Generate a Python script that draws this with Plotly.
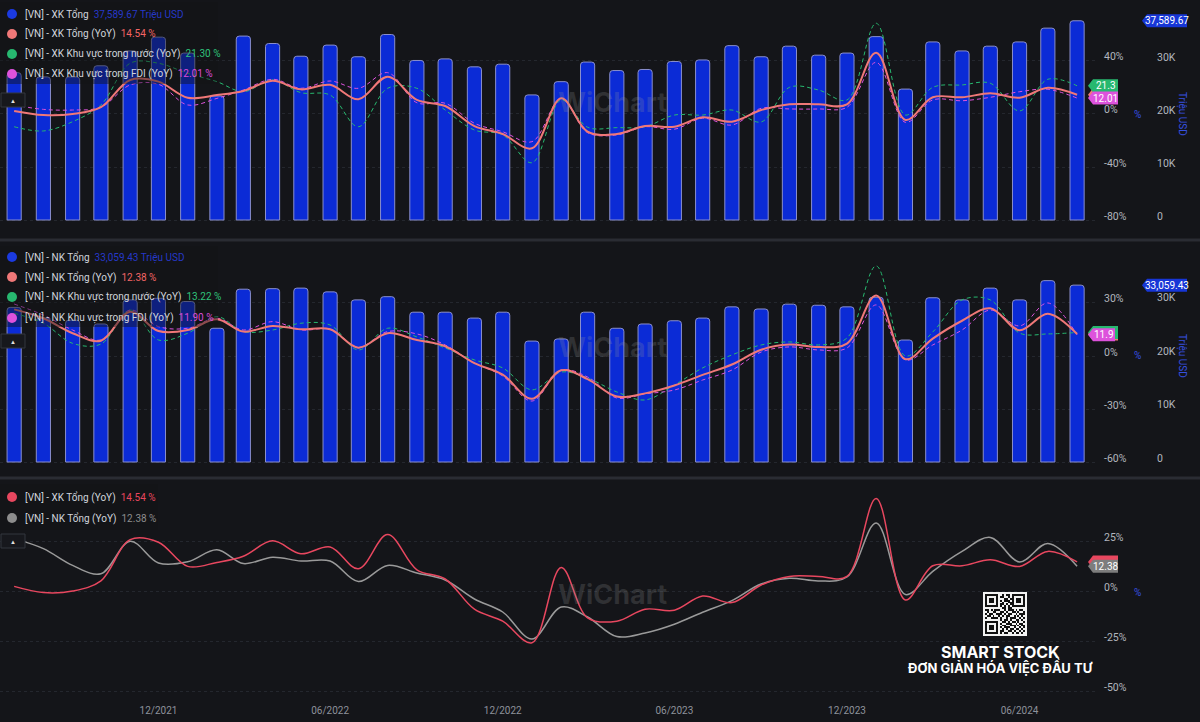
import plotly.graph_objects as go

W, H = 1200, 722
BG = "#141519"

# ---------------- data ----------------
months = ["2021-07", "2021-08", "2021-09", "2021-10", "2021-11", "2021-12",
          "2022-01", "2022-02", "2022-03", "2022-04", "2022-05", "2022-06",
          "2022-07", "2022-08", "2022-09", "2022-10", "2022-11", "2022-12",
          "2023-01", "2023-02", "2023-03", "2023-04", "2023-05", "2023-06",
          "2023-07", "2023-08", "2023-09", "2023-10", "2023-11", "2023-12",
          "2024-01", "2024-02", "2024-03", "2024-04", "2024-05", "2024-06",
          "2024-07", "2024-08"]

xk_total = [27800, 27000, 27000, 29100, 31900, 34500, 31500, 23400, 34700, 33300,
            30900, 33000, 30800, 35000, 30100, 30400, 28900, 29400, 23600, 26100,
            29800, 28200, 28400, 29900, 30200, 32900, 30800, 32800, 31100, 31500,
            34600, 24700, 33600, 31900, 32800, 33600, 36200, 37589.67]
xk_yoy = [2.3, -0.8, 0.0, 5.1, 25.7, 24.4, 12.3, 14.3, 17.4, 25.1,
          18.6, 22.0, 11.1, 28.2, 10.6, 6.0, -9.1, -15.1, -25.9, 11.8,
          -13.4, -15.1, -9.1, -9.6, -2.5, -5.8, 3.0, 7.3, 7.3, 7.3,
          46.3, -4.5, 12.6, 12.6, 15.6, 12.3, 19.8, 14.54]
xk_dom = [-9.6, -12.8, -5.8, 6.8, 38.3, 38.3, 30.7, 24.4, 16.8, 25.7,
          16.1, 14.3, -9.6, 19.4, 19.4, 3.0, -12.1, -15.8, -36.8, 10.6,
          -10.0, -10.3, -9.6, -0.8, -0.8, 3.0, -6.0, 20.1, 18.1, 10.6,
          68.5, -0.8, 20.1, 21.9, 23.2, 2.3, 26.2, 21.30]
xk_fdi = [6.8, 3.5, 3.0, 5.1, 21.9, 22.4, 6.8, 11.8, 18.1, 26.2,
          19.4, 24.9, 19.4, 31.2, 8.5, 8.1, -7.0, -13.4, -20.9, 11.8,
          -14.1, -15.8, -9.6, -11.5, -3.2, -8.3, 4.3, 3.8, 3.8, 5.1,
          39.0, -6.3, 10.6, 10.0, 12.6, 16.8, 18.6, 12.01]

nk_total = [28900, 26900, 26500, 25800, 30300, 30600, 30000, 25000, 32300, 32400,
            32500, 31800, 30300, 30900, 28000, 28000, 26900, 28000, 22600, 23000,
            28000, 25000, 25800, 26400, 26900, 29000, 28600, 29500, 29300, 29000,
            30800, 22800, 30700, 30300, 32500, 30300, 33900, 33059.43]
nk_yoy = [26.2, 21.2, 12.8, 8.6, 24.9, 14.0, 14.6, 20.6, 13.7, 16.9,
          15.0, 15.0, 4.7, 12.8, 9.0, 5.5, -4.0, -10.5, -24.0, -8.0,
          -13.0, -22.8, -21.0, -16.6, -10.6, -4.8, 3.5, 6.4, 5.0, 7.0,
          34.0, -1.8, 9.8, 19.8, 26.8, 14.5, 23.8, 12.38]
nk_dom = [24.0, 18.4, 7.1, 6.7, 25.8, 9.0, 12.8, 22.1, 13.7, 14.6,
          18.4, 17.4, 3.4, 15.6, 10.7, 4.5, -2.2, -6.7, -19.0, -9.0,
          -12.4, -20.2, -24.7, -16.3, -6.7, 0.6, 6.2, 7.9, 6.2, 10.1,
          50.6, 0.0, 13.5, 31.5, 31.5, 12.9, 12.4, 13.22]
nk_fdi = [29.2, 23.0, 14.6, 9.0, 25.8, 16.5, 15.6, 21.2, 14.6, 19.3,
          14.6, 15.0, 4.9, 13.7, 12.4, 6.2, -3.9, -11.2, -25.3, -7.9,
          -11.8, -23.6, -21.3, -19.1, -13.5, -7.9, 2.2, 5.1, 3.4, 4.5,
          28.7, -2.2, 6.2, 14.6, 25.8, 16.9, 29.8, 11.90]

x_tickvals = ["2021-12-01", "2022-06-01", "2022-12-01", "2023-06-01", "2023-12-01", "2024-06-01"]
x_ticktext = ["12/2021", "06/2022", "12/2022", "06/2023", "12/2023", "06/2024"]

val_ticks = [0, 10000, 20000, 30000]
val_ticktext = ["0", "10K", "20K", "30K"]
top_pct_ticks = [-80, -40, 0, 40]
mid_pct_ticks = [-60, -30, 0, 30]
bot_pct_ticks = [-50, -25, 0, 25]

# ---------------- styles ----------------
BAR = "#0b2bd6"
BAR_LINE = "#8a8fcc"
SALMON = "#f07878"
GREEN = "#27b86f"
PINK = "#dd52dc"
CRIMSON = "#e8475f"
GRAY = "#9a9a9a"
AXIS_BLUE = "#3650e0"
TICK = "#b2b5be"
FONT = "Roboto"
DASH = "4px,3px"


def fx(px):
    return px / W


def fy(py):
    return 1 - py / H


fig = go.Figure()

BAR_W = 15 * 24 * 3600 * 1000

# top panel
fig.add_trace(go.Bar(x=months, y=xk_total, yaxis="y", width=BAR_W,
                     marker=dict(color=BAR, line=dict(color=BAR_LINE, width=1))))
fig.add_trace(go.Scatter(x=months, y=xk_dom, yaxis="y2", mode="lines",
                         line=dict(color=GREEN, width=1, dash=DASH, shape="spline", smoothing=1)))
fig.add_trace(go.Scatter(x=months, y=xk_fdi, yaxis="y2", mode="lines",
                         line=dict(color=PINK, width=1, dash=DASH, shape="spline", smoothing=1)))
fig.add_trace(go.Scatter(x=months, y=xk_yoy, yaxis="y2", mode="lines",
                         line=dict(color=SALMON, width=2, shape="spline", smoothing=1)))
# middle panel
fig.add_trace(go.Bar(x=months, y=nk_total, yaxis="y3", width=BAR_W,
                     marker=dict(color=BAR, line=dict(color=BAR_LINE, width=1))))
fig.add_trace(go.Scatter(x=months, y=nk_dom, yaxis="y4", mode="lines",
                         line=dict(color=GREEN, width=1, dash=DASH, shape="spline", smoothing=1)))
fig.add_trace(go.Scatter(x=months, y=nk_fdi, yaxis="y4", mode="lines",
                         line=dict(color=PINK, width=1, dash=DASH, shape="spline", smoothing=1)))
fig.add_trace(go.Scatter(x=months, y=nk_yoy, yaxis="y4", mode="lines",
                         line=dict(color=SALMON, width=2, shape="spline", smoothing=1)))
# bottom panel
fig.add_trace(go.Scatter(x=months, y=nk_yoy, yaxis="y5", mode="lines",
                         line=dict(color=GRAY, width=1.5, shape="spline", smoothing=1)))
fig.add_trace(go.Scatter(x=months, y=xk_yoy, yaxis="y5", mode="lines",
                         line=dict(color=CRIMSON, width=1.5, shape="spline", smoothing=1)))

# QR-like decoration
qr_rows = [
    "000000000101100000000",
    "000000001100100000000",
    "000000000011010000000",
    "000000001011100000000",
    "000000000100110000000",
    "000000001101010000000",
    "000000001010100000000",
    "000000000110110000000",
    "110101110010111010110",
    "010011001101001101001",
    "101100111010110010111",
    "011010010101100101010",
    "100111101001011100101",
    "000000001011010011010",
    "000000000110101101001",
    "000000001001110010110",
    "000000000110011101011",
    "000000001011100100101",
    "000000000101011011010",
    "000000001100110100101",
    "000000001011001011010",
]
finder = ["1111111", "1000001", "1011101", "1011101", "1011101", "1000001", "1111111"]
qr = [[int(c) for c in r[:21].ljust(21, "0")] for r in qr_rows]
for (r0, c0) in [(0, 0), (0, 14), (14, 0)]:
    for i in range(7):
        for j in range(7):
            qr[r0 + i][c0 + j] = int(finder[i][j])
qr = [[0] * 23] + [[0] + r + [0] for r in qr] + [[0] * 23]
fig.add_trace(go.Heatmap(z=qr, xaxis="x2", yaxis="y6", showscale=False,
                         colorscale=[[0, "#f2f2f2"], [1, "#111111"]], hoverinfo="skip"))

# ---------------- axes ----------------
common_y = dict(showline=False, zeroline=False, ticks="", fixedrange=True,
                showticklabels=False)
grid = dict(showgrid=True, gridcolor="#24272e", griddash="dot", gridwidth=1)
dom_top = [fy(232), fy(5)]
dom_mid = [fy(474), fy(248)]
dom_bot = [fy(698), fy(484)]

fig.update_layout(
    width=W, height=H, margin=dict(l=0, r=0, t=0, b=0),
    paper_bgcolor=BG, plot_bgcolor=BG, showlegend=False, hovermode=False,
    barcornerradius=3, font=dict(family=FONT, color=TICK, size=11),
    xaxis=dict(type="date", domain=[0, fx(1095)], anchor="y5",
               range=["2021-06-16", "2024-08-20"], tickvals=x_tickvals, ticktext=x_ticktext,
               showgrid=False, zeroline=False, showline=False, ticks="",
               ticklabelstandoff=5,
               tickfont=dict(color="#8e929b", size=10, family=FONT)),
    yaxis=dict(domain=dom_top, anchor="free", position=fx(1152), side="right",
               range=[-2264, 40566], tickvals=val_ticks, showgrid=False, **common_y),
    yaxis2=dict(overlaying="y", anchor="x", side="right", range=[-89.06, 82.26],
                tickvals=top_pct_ticks, **grid, **common_y),
    yaxis3=dict(domain=dom_mid, anchor="free", position=fx(1152), side="right",
                range=[-2243, 40000], tickvals=val_ticks, showgrid=False, **common_y),
    yaxis4=dict(overlaying="y3", anchor="x", side="right", range=[-66.29, 60.67],
                tickvals=mid_pct_ticks, **grid, **common_y),
    yaxis5=dict(domain=dom_bot, anchor="x", side="right", range=[-53.5, 53.5],
                tickvals=bot_pct_ticks, **grid, **common_y),
    xaxis2=dict(domain=[fx(983), fx(1027)], anchor="y6", visible=False, fixedrange=True),
    yaxis6=dict(domain=[fy(636), fy(592)], anchor="x2", visible=False,
                autorange="reversed", fixedrange=True),
)

shapes = []
annotations = []


# tick labels (drawn slightly above their grid line, as in the reference)
def tick_labels(yref, vals, texts, x_px):
    for v, t in zip(vals, texts):
        annotations.append(dict(xref="paper", yref=yref, x=fx(x_px), y=v, yshift=4,
                                text=t, showarrow=False, xanchor="left", yanchor="middle",
                                font=dict(family=FONT, size=10.5, color=TICK)))


tick_labels("y", val_ticks, val_ticktext, 1155)
tick_labels("y2", top_pct_ticks, [f"{v}%" for v in top_pct_ticks], 1102)
tick_labels("y3", val_ticks, val_ticktext, 1155)
tick_labels("y4", mid_pct_ticks, [f"{v}%" for v in mid_pct_ticks], 1102)
tick_labels("y5", bot_pct_ticks, [f"{v}%" for v in bot_pct_ticks], 1102)

# separators
for yc in (240, 478):
    shapes.append(dict(type="rect", xref="paper", yref="paper", x0=0, x1=1,
                       y0=fy(yc + 1.5), y1=fy(yc - 1.5), fillcolor="#2a2c33",
                       line=dict(width=0), layer="above"))

# legend boxes
for (x1, y0, y1) in [(218, 2, 84), (218, 246, 327), (158, 484, 530)]:
    shapes.append(dict(type="rect", xref="paper", yref="paper", x0=0, x1=fx(x1),
                       y0=fy(y1), y1=fy(y0), fillcolor="rgba(18,19,23,0.45)",
                       line=dict(width=0), layer="above"))


def legend_row(py, dot_color, label, value, value_color):
    shapes.append(dict(type="circle", xref="paper", yref="paper",
                       xsizemode="pixel", ysizemode="pixel",
                       xanchor=fx(12), yanchor=fy(py), x0=-5, x1=5, y0=-5, y1=5,
                       fillcolor=dot_color, line=dict(width=0), layer="above"))
    annotations.append(dict(xref="paper", yref="paper", x=fx(23), y=fy(py),
                            xanchor="left", yanchor="middle", showarrow=False,
                            text=f"{label}  <span style='color:{value_color}'>{value}</span>",
                            font=dict(family=FONT, size=10, color="#d1d4dc")))


legend_row(14, "#1b3ae0", "[VN] - XK Tổng", "37,589.67 Triệu USD", "#2638c8")
legend_row(34, SALMON, "[VN] - XK Tổng (YoY)", "14.54 %", "#f26565")
legend_row(54, GREEN, "[VN] - XK Khu vực trong nước (YoY)", "21.30 %", "#2fc27a")
legend_row(74, PINK, "[VN] - XK Khu vực trong FDI (YoY)", "12.01 %", "#d94ad9")
legend_row(257, "#1b3ae0", "[VN] - NK Tổng", "33,059.43 Triệu USD", "#2638c8")
legend_row(277, SALMON, "[VN] - NK Tổng (YoY)", "12.38 %", "#f26565")
legend_row(297, GREEN, "[VN] - NK Khu vực trong nước (YoY)", "13.22 %", "#2fc27a")
legend_row(318, PINK, "[VN] - NK Khu vực trong FDI (YoY)", "11.90 %", "#d94ad9")
legend_row(497, CRIMSON, "[VN] - XK Tổng (YoY)", "14.54 %", CRIMSON)
legend_row(518, "#8d8d8d", "[VN] - NK Tổng (YoY)", "12.38 %", "#8d8d8d")

# collapse buttons
for py in (100, 341, 541):
    shapes.append(dict(type="rect", xref="paper", yref="paper", x0=fx(1), x1=fx(25),
                       y0=fy(py + 7), y1=fy(py - 7), fillcolor="#17181d",
                       line=dict(color="#33363e", width=1), layer="above"))
    annotations.append(dict(xref="paper", yref="paper", x=fx(13), y=fy(py),
                            xanchor="center", yanchor="middle",
                            text="▲", showarrow=False, font=dict(size=6, color="#e0e0e0")))

# watermarks
for py in (103, 347, 594):
    annotations.append(dict(xref="paper", yref="paper", x=fx(612), y=fy(py),
                            xanchor="center", yanchor="middle",
                            text="<b>WiChart</b>", showarrow=False,
                            font=dict(family="Inter", size=27, color="rgba(150,150,150,0.22)")))


def tag(yref, val, x_px, w, color, text, h=13, size=10):
    shapes.append(dict(type="path", xref="paper", yref=yref,
                       xsizemode="pixel", ysizemode="pixel",
                       xanchor=fx(x_px), yanchor=val,
                       path=f"M0,0 L5,{h/2} L{w},{h/2} L{w},{-h/2} L5,{-h/2} Z",
                       fillcolor=color, line=dict(width=0), layer="above"))
    if text:
        annotations.append(dict(xref="paper", yref=yref, x=fx(x_px + 5 + (w - 5) / 2), y=val,
                                text=text, showarrow=False, xanchor="center", yanchor="middle",
                                font=dict(family=FONT, size=size, color="white")))


tag("y", xk_total[-1], 1142, 45, "#1736d6", f"{xk_total[-1]:,.2f}")
tag("y2", xk_yoy[-1], 1088, 30, SALMON, "")
tag("y2", xk_dom[-1], 1088, 30, GREEN, "21.3")
tag("y2", xk_fdi[-1], 1088, 30, PINK, "12.01")
tag("y3", nk_total[-1], 1142, 45, "#1736d6", f"{nk_total[-1]:,.2f}")
tag("y4", nk_yoy[-1], 1088, 30, SALMON, "")
tag("y4", nk_dom[-1], 1088, 30, GREEN, "")
tag("y4", nk_fdi[-1], 1088, 27, PINK, "11.9")
tag("y5", xk_yoy[-1], 1088, 30, CRIMSON, "")
tag("y5", nk_yoy[-1], 1088, 30, "#7d7d7d", "12.38")

# axis titles
for py in (114, 356, 592):
    annotations.append(dict(xref="paper", yref="paper", x=fx(1137), y=fy(py), text="%",
                            xanchor="center", yanchor="middle",
                            showarrow=False, font=dict(family=FONT, size=10, color=AXIS_BLUE)))
for py in (114, 356):
    annotations.append(dict(xref="paper", yref="paper", x=fx(1182), y=fy(py), text="Triệu USD",
                            xanchor="center", yanchor="middle",
                            textangle=90, showarrow=False,
                            font=dict(family=FONT, size=10, color=AXIS_BLUE)))

# brand text
annotations.append(dict(xref="paper", yref="paper", x=fx(1001), y=fy(652),
                        xanchor="center", yanchor="middle",
                        text="<b>SMART STOCK</b>", showarrow=False,
                        font=dict(family="Inter", size=16, color="white")))
annotations.append(dict(xref="paper", yref="paper", x=fx(1001), y=fy(667),
                        xanchor="center", yanchor="middle",
                        text="<b>ĐƠN GIẢN HÓA VIỆC ĐẦU TƯ</b>", showarrow=False,
                        font=dict(family="Inter", size=13, color="white")))

fig.update_layout(shapes=shapes, annotations=annotations)
fig.write_html("out.html")
